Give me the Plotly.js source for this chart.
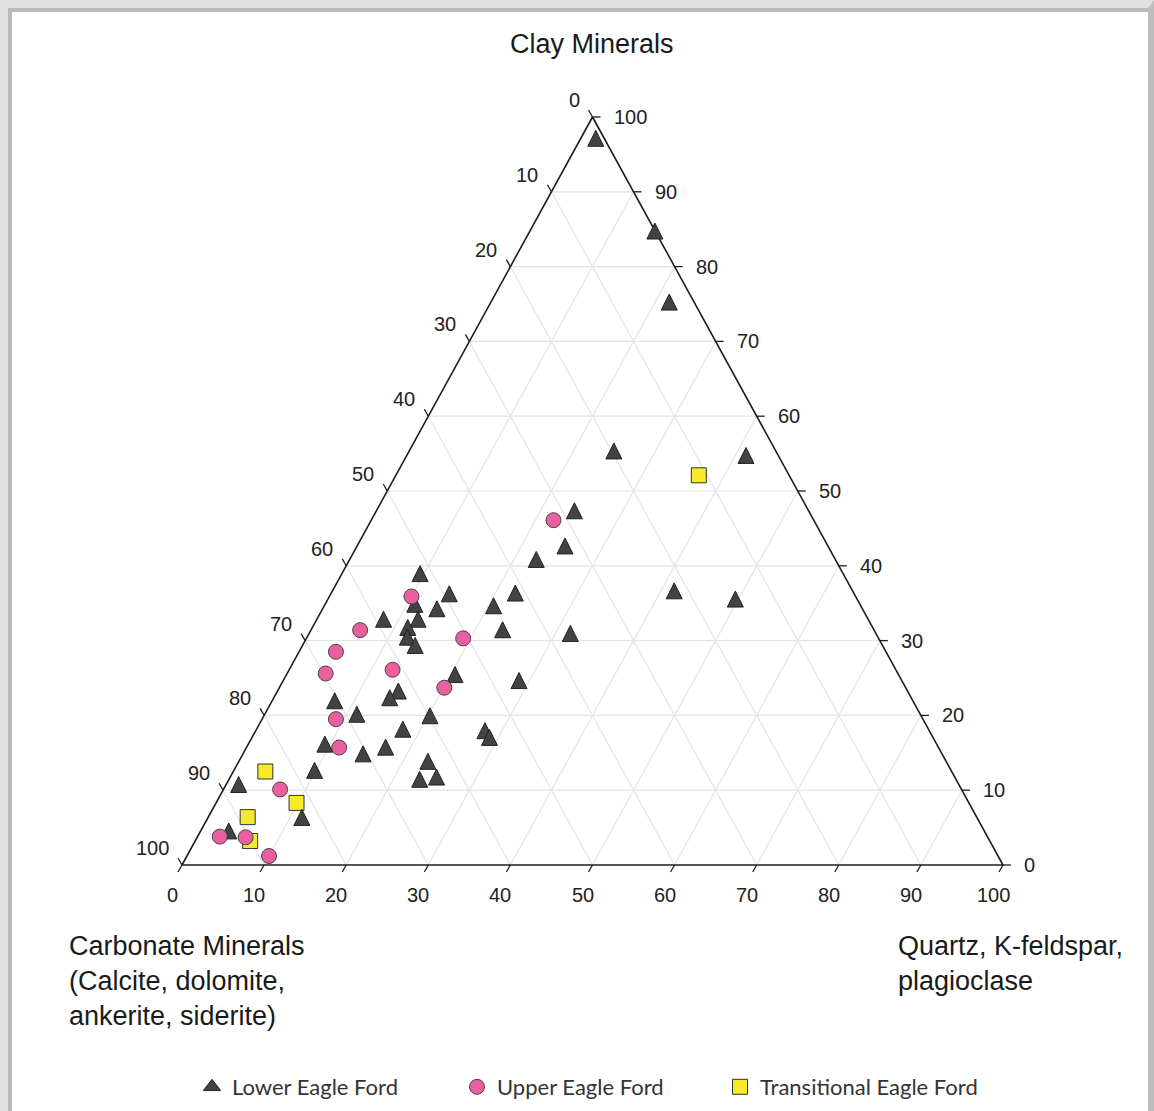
<!DOCTYPE html>
<html>
<head>
<meta charset="utf-8">
<script src="https://cdn.plot.ly/plotly-3.0.1.min.js"></script>
<style>
  html, body { margin: 0; padding: 0; background: #ffffff; }
  #chart { position: absolute; left: 0; top: 0; width: 1154px; height: 1111px; }
  #frame {
    position: absolute; left: 0; top: 0; width: 1154px; height: 1111px;
    box-sizing: border-box; pointer-events: none;
    border-top: 8px solid #e0e0e0; border-left: 8px solid #e0e0e0;
    border-right: 6px solid #bdbdbd;
  }
  #frame div {
    position: absolute; left: 0; top: 0; right: 0; bottom: 0;
    border-top: 4px solid #bababa; border-left: 4px solid #bababa;
  }
</style>
</head>
<body>
<div id="chart"></div>
<div id="frame"><div></div></div>
<script>
// Mineral composition (wt %) of Eagle Ford samples: clay, quartz+feldspar, carbonate
const lowerClay = [96.8, 84.4, 74.9, 55.0, 54.4, 47.0, 42.3, 40.5, 38.6, 35.9, 36.0, 36.3, 35.2, 32.5, 34.5,
  33.9, 32.5, 31.4, 30.1, 29.0, 34.3, 31.1, 30.6, 25.1, 24.3, 22.9, 22.0, 21.6, 19.8, 19.6, 17.8, 17.6, 16.7,
  15.8, 14.5, 15.4, 13.5, 11.1, 11.4, 12.3, 10.4, 6.0, 4.2];
const lowerQuartz = [2.0, 15.4, 21.9, 25.1, 41.5, 24.3, 25.5, 22.9, 9.7, 14.6, 22.6, 41.8, 49.8, 8.3, 11.1,
  14.1, 12.5, 11.8, 12.4, 13.9, 20.8, 23.5, 32.0, 20.7, 28.9, 14.9, 14.3, 7.8, 11.4, 20.4, 18.0, 28.1, 29.1,
  9.5, 14.8, 17.1, 23.2, 23.4, 25.3, 10.0, 1.7, 11.6, 3.6];
const lowerCarbonate = [1.2, 0.2, 3.2, 19.9, 4.1, 28.7, 32.2, 36.6, 51.7, 49.5, 41.4, 21.9, 15.0, 59.2, 54.4,
  52.0, 55.0, 56.8, 57.5, 57.1, 44.9, 45.4, 37.4, 54.2, 46.8, 62.2, 63.7, 70.6, 68.8, 60.0, 64.2, 54.3, 54.2,
  74.7, 70.7, 67.5, 63.3, 65.5, 63.3, 77.7, 87.9, 82.4, 92.2];

const upperClay = [46.1, 35.9, 31.4, 30.3, 28.5, 25.6, 26.1, 23.7, 19.5, 15.7, 10.1, 3.8, 3.7, 1.2];
const upperQuartz = [22.2, 10.0, 6.0, 19.1, 4.5, 4.7, 12.6, 20.1, 9.0, 11.3, 6.9, 2.7, 5.9, 10.0];
const upperCarbonate = [31.7, 54.1, 62.6, 50.6, 67.0, 69.7, 61.3, 56.2, 71.5, 73.0, 83.0, 93.5, 90.4, 88.8];

const transClay = [52.1, 12.5, 8.3, 6.4, 3.2];
const transQuartz = [36.9, 3.9, 9.8, 4.8, 6.7];
const transCarbonate = [11.0, 83.6, 81.9, 88.8, 90.1];

const seriesNames = ['Lower Eagle Ford', 'Upper Eagle Ford', 'Transitional Eagle Ford'];
const tickValues = [0, 10, 20, 30, 40, 50, 60, 70, 80, 90, 100];

// ---- page geometry (px) of the triangle ----
const W = 1154, H = 1111;
const LEFT = 182, RIGHT = 1003, BASE = 865, APEX = 117;
const xPerPx = 100 / (RIGHT - LEFT);
const yPerPx = 100 / (BASE - APEX);

// ternary (clay at top, carbonate bottom-left, quartz bottom-right) -> plane
function project(clay, quartz, carb) {
  const t = clay + quartz + carb;
  const a = clay / t * 100, q = quartz / t * 100;
  return [q + a / 2, a];
}
function projectSeries(cl, qz, cb) {
  const xs = [], ys = [];
  for (let i = 0; i < cl.length; i++) {
    const p = project(cl[i], qz[i], cb[i]);
    xs.push(p[0]); ys.push(p[1]);
  }
  return {x: xs, y: ys};
}

// grid lines parallel to each side
const gx = [], gy = [];
tickValues.slice(1, -1).forEach(v => {
  let p1 = project(v, 0, 100 - v), p2 = project(v, 100 - v, 0);          // constant clay
  gx.push(p1[0], p2[0], null); gy.push(p1[1], p2[1], null);
  p1 = project(0, v, 100 - v); p2 = project(100 - v, v, 0);              // constant quartz
  gx.push(p1[0], p2[0], null); gy.push(p1[1], p2[1], null);
  p1 = project(0, 100 - v, v); p2 = project(100 - v, 0, v);              // constant carbonate
  gx.push(p1[0], p2[0], null); gy.push(p1[1], p2[1], null);
});

// outer triangle
const corners = [project(0, 0, 100), project(0, 100, 0), project(100, 0, 0), project(0, 0, 100)];

// short tick marks on each side
const tx = [], ty = [];
const tickLen = 8;
tickValues.forEach(v => {
  let p = project(0, v, 100 - v);           // bottom: quartz
  tx.push(p[0], p[0] - 0.5 * tickLen * xPerPx, null);
  ty.push(p[1], p[1] - 0.875 * tickLen * yPerPx, null);
  p = project(100 - v, 0, v);               // left: carbonate
  tx.push(p[0], p[0] - 0.5 * tickLen * xPerPx, null);
  ty.push(p[1], p[1] + 0.875 * tickLen * yPerPx, null);
  p = project(v, 100 - v, 0);               // right: clay
  tx.push(p[0], p[0] + tickLen * xPerPx, null);
  ty.push(p[1], p[1], null);
});

const lower = projectSeries(lowerClay, lowerQuartz, lowerCarbonate);
const upper = projectSeries(upperClay, upperQuartz, upperCarbonate);
const trans = projectSeries(transClay, transQuartz, transCarbonate);

const TRI = 16;
const triFill = '#434343', triEdge = '#222222';
const traces = [
  {x: gx, y: gy, mode: 'lines', line: {color: '#e4e4e4', width: 1.2}, hoverinfo: 'skip', showlegend: false},
  {x: corners.map(p => p[0]), y: corners.map(p => p[1]), mode: 'lines',
   line: {color: '#1e1e1e', width: 1.6}, hoverinfo: 'skip', showlegend: false},
  {x: tx, y: ty, mode: 'lines', line: {color: '#1e1e1e', width: 1.3}, hoverinfo: 'skip', showlegend: false},
  {x: trans.x, y: trans.y, mode: 'markers', name: seriesNames[2], legend: 'legend3',
   marker: {symbol: 'square', size: 15, color: '#f7ea2a', line: {color: '#333333', width: 1}}},
  // equal-sided triangles centred on their points
  {x: lower.x, y: lower.y, mode: 'markers', name: seriesNames[0], legendgroup: 'lower', showlegend: false,
   marker: {symbol: 'arrow-down', angle: 180, standoff: TRI * 2 / 3, size: TRI,
            color: triFill, line: {color: triEdge, width: 1}}},
  // legend key for the triangles
  {x: [null], y: [null], mode: 'markers', name: seriesNames[0], legendgroup: 'lower', legend: 'legend',
   marker: {symbol: 'triangle-up', size: 15, color: triFill, line: {color: triEdge, width: 1}}},
  {x: upper.x, y: upper.y, mode: 'markers', name: seriesNames[1], legend: 'legend2',
   marker: {symbol: 'circle', size: 15, color: '#ec5f9f', line: {color: '#444444', width: 1}}}
];

const tickFont = {family: 'Liberation Sans, Arial, sans-serif', size: 20, color: '#222222'};
const annotations = [];
tickValues.forEach(v => {
  let p = project(0, v, 100 - v);
  annotations.push({x: p[0], y: p[1], xref: 'x', yref: 'y', text: String(v), showarrow: false,
    xanchor: 'center', yanchor: 'middle', xshift: -10, yshift: -30, font: tickFont});
  p = project(100 - v, 0, v);
  annotations.push({x: p[0], y: p[1], xref: 'x', yref: 'y', text: String(v), showarrow: false,
    xanchor: 'right', yanchor: 'middle', xshift: -11, yshift: 17, font: tickFont});
  p = project(v, 100 - v, 0);
  annotations.push({x: p[0], y: p[1], xref: 'x', yref: 'y', text: String(v), showarrow: false,
    xanchor: 'left', yanchor: 'middle', xshift: 19, yshift: 0, font: tickFont});
});

const labelFont = {family: 'Liberation Sans, Arial, sans-serif', size: 27, color: '#1a1a1a'};
annotations.push(
  {xref: 'paper', yref: 'paper', x: 592 / W, y: 1 - 44 / H, text: 'Clay Minerals', showarrow: false,
   xanchor: 'center', yanchor: 'middle', font: labelFont},
  {xref: 'paper', yref: 'paper', x: 67 / W, y: 1 - 929 / H,
   text: 'Carbonate Minerals<br>(Calcite, dolomite,<br>ankerite, siderite)', showarrow: false,
   xanchor: 'left', yanchor: 'top', align: 'left', font: labelFont},
  {xref: 'paper', yref: 'paper', x: 896 / W, y: 1 - 929 / H,
   text: 'Quartz, K-feldspar,<br>plagioclase', showarrow: false,
   xanchor: 'left', yanchor: 'top', align: 'left', font: labelFont}
);

const legendBase = {yanchor: 'middle', y: 1 - 1087 / H, xanchor: 'left', bgcolor: 'rgba(0,0,0,0)',
  borderwidth: 0, font: {family: 'Lato, sans-serif', size: 22, color: '#333333'}};

const layout = {
  width: W, height: H,
  margin: {l: 0, r: 0, t: 0, b: 0, pad: 0},
  paper_bgcolor: '#ffffff', plot_bgcolor: 'rgba(0,0,0,0)',
  xaxis: {range: [-LEFT * xPerPx, (W - LEFT) * xPerPx], visible: false, fixedrange: true},
  yaxis: {range: [-(H - BASE) * yPerPx, 100 + APEX * yPerPx], visible: false, fixedrange: true},
  showlegend: true,
  legend: Object.assign({}, legendBase, {x: 192 / W}),
  legend2: Object.assign({}, legendBase, {x: 457 / W}),
  legend3: Object.assign({}, legendBase, {x: 720 / W}),
  annotations: annotations
};

Plotly.newPlot('chart', traces, layout, {displayModeBar: false, staticPlot: true});
</script>
</body>
</html>
